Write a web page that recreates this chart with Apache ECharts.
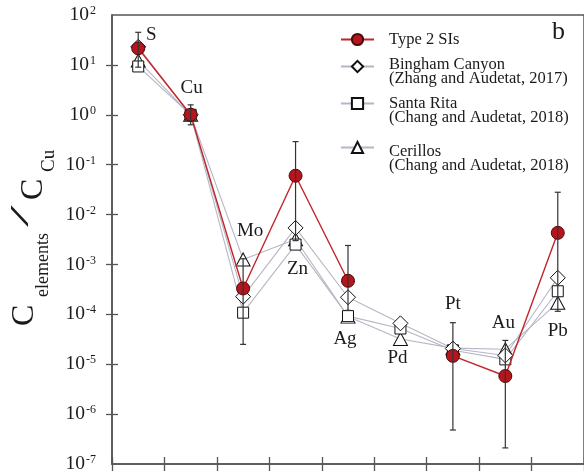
<!DOCTYPE html>
<html>
<head>
<meta charset="utf-8">
<script src="https://cdn.jsdelivr.net/npm/echarts@6/dist/echarts.min.js"></script>
<style>
html, body { margin: 0; padding: 0; background: #fff; }
#chart { width: 584px; height: 474px; }
</style>
</head>
<body>
<div id="chart"></div>
<script>
// Element concentrations normalised to Cu
const elements = ['S', 'Cu', 'Mo', 'Zn', 'Ag', 'Pd', 'Pt', 'Au', 'Pb'];
const type2 = [21.5, 1, 3.3e-4, 0.060, 4.7e-4, null, 1.47e-5, 5.8e-6, 4.3e-3];
const type2Low = [9, 0.63, 2.5e-5, 3.0e-3, 1.2e-4, null, 4.8e-7, 2.1e-7, 1.15e-4];
const type2High = [45, 1.58, 1.3e-3, 0.29, 2.4e-3, null, 6.8e-5, 3.0e-5, 0.028];
const bingham = [23, 1, 2.26e-4, 5.4e-3, 2.2e-4, 6.6e-5, 2.06e-5, 1.5e-5, 5.4e-4];
const santaRita = [9.3, 1, 1.08e-4, 2.5e-3, 9.2e-5, 5.2e-5, 1.9e-5, 1.25e-5, 2.9e-4];
const cerillos = [12.2, 1, 1.26e-3, 3.2e-3, 9.0e-5, 3.2e-5, 2.1e-5, 2.0e-5, 1.7e-4];
const yTickValues = [1e-6, 1e-5, 1e-4, 1e-3, 1e-2, 1e-1, 1, 10];

const names = {
  type2: 'Type 2 SIs',
  bingham: 'Bingham Canyon\n(Zhang and Audetat, 2017)',
  santaRita: 'Santa Rita\n(Chang and Audetat, 2018)',
  cerillos: 'Cerillos\n(Chang and Audetat, 2018)'
};

const SERIF = '"Liberation Serif", "Times New Roman", serif';
const AXIS = '#555';
const GREY_LINE = '#b6b6c6';

// which series carries each element label, and where the label sits relative to that point
const elementLabelAt = {
  S: ['type2', [13, -13]],
  Cu: ['type2', [1, -27]],
  Mo: ['type2', [7, -57]],
  Zn: ['santaRita', [2, 24]],
  Ag: ['santaRita', [-3, 23]],
  Pd: ['bingham', [-3, 35]],
  Pt: ['type2', [0, -52]],
  Au: ['type2', [-2, -53]],
  Pb: ['cerillos', [0, 28]]
};

function withLabels(key, values) {
  return values.map((v, i) => {
    const spec = elementLabelAt[elements[i]];
    if (v == null || !spec || spec[0] !== key) return v;
    return {
      value: v,
      label: {
        show: true,
        position: 'inside',
        offset: spec[1],
        formatter: elements[i],
        fontFamily: SERIF,
        fontSize: 19,
        color: '#1a1a1a'
      }
    };
  });
}

function openSeries(key, symbol, size) {
  return {
    name: names[key],
    type: 'line',
    data: withLabels(key, ({ bingham, santaRita, cerillos })[key]),
    symbol: symbol,
    symbolSize: size,
    showAllSymbol: true,
    connectNulls: false,
    lineStyle: { color: GREY_LINE, width: 1.1 },
    itemStyle: { color: '#fff', borderColor: '#111', borderWidth: 1 },
    emphasis: { disabled: true },
    z: 2
  };
}

const errorData = elements.map((e, i) => [i, type2Low[i], type2High[i]]).filter(d => d[1] != null);

// one legend block per series; the small spacer line nudges the text below the icon
function legendFor(name, top, spacer) {
  return {
    data: [name],
    left: 340,
    top: top,
    padding: 0,
    itemWidth: 33,
    itemHeight: 14,
    selectedMode: false,
    formatter: n => (spacer ? '{sp| }\n' : '') + n.split('\n').map(s => '{t|' + s + '}').join('\n'),
    textStyle: {
      rich: {
        sp: { fontSize: 4, lineHeight: spacer || 1 },
        t: { fontFamily: SERIF, fontSize: 16.5, lineHeight: 13.5, color: '#1a1a1a', padding: [0, 0, 0, 10] }
      }
    }
  };
}

// y-axis title pieces: baseline offset to the right of the group origin, start along the text
const titleParts = [
  { text: 'C', size: 32, base: 33, at: 0 },
  { text: 'elements', size: 18, base: 48, at: 29 },
  { text: '/', size: 26, base: 28, at: 99, stretch: 3 },
  { text: 'C', size: 32, base: 42, at: 126 },
  { text: 'Cu', size: 19, base: 54, at: 154 }
];
const titleChildren = titleParts.map(p => ({
  type: 'text',
  x: p.at,
  y: p.base + 0.25 * p.size,
  scaleX: p.stretch || 1,
  style: {
    text: p.text,
    font: p.size + 'px "Liberation Serif"',
    fill: '#1a1a1a',
    align: 'left',
    verticalAlign: 'bottom'
  }
}));

const chart = echarts.init(document.getElementById('chart'), null, { renderer: 'canvas' });

chart.setOption({
  animation: false,
  backgroundColor: '#fff',
  grid: {
    left: 112, top: 15, width: 475, bottom: 9,
    show: true, borderColor: AXIS, borderWidth: 1.5
  },
  title: {
    text: 'b', left: 547, top: 14,
    textStyle: { fontFamily: SERIF, fontSize: 26, fontWeight: 'normal', color: '#1a1a1a' }
  },
  legend: [
    legendFor(names.type2, 31, 0),
    legendFor(names.bingham, 51, 10),
    legendFor(names.santaRita, 88, 14),
    legendFor(names.cerillos, 132, 22)
  ],
  xAxis: [
    {
      type: 'category', data: elements, boundaryGap: true,
      axisLine: { lineStyle: { color: AXIS, width: 1.5 } },
      axisTick: { show: true, inside: false, length: 7, lineStyle: { color: AXIS, width: 1.3 } },
      axisLabel: { show: false },
      splitLine: { show: false }
    },
    {
      type: 'category', data: elements, boundaryGap: true, position: 'bottom',
      axisLine: { show: false },
      axisTick: { show: true, inside: true, length: 7, lineStyle: { color: AXIS, width: 1.3 } },
      axisLabel: { show: false },
      splitLine: { show: false }
    }
  ],
  yAxis: [
    {
      type: 'log', logBase: 10, min: 1e-7, max: 100,
      axisLine: { show: true, lineStyle: { color: AXIS, width: 1.5 } },
      axisTick: { show: true, inside: false, length: 6, customValues: yTickValues, lineStyle: { color: AXIS, width: 1.3 } },
      splitLine: { show: false },
      axisLabel: {
        margin: 16,
        formatter: v => '{b|10}{e|' + Math.round(Math.log10(v)) + '}',
        rich: {
          b: { fontFamily: SERIF, fontSize: 19.5, color: '#1a1a1a', lineHeight: 20 },
          e: { fontFamily: SERIF, fontSize: 12, color: '#1a1a1a', lineHeight: 16, verticalAlign: 'top', padding: [0, 0, 0, 1] }
        }
      }
    },
    {
      type: 'log', logBase: 10, min: 1e-7, max: 100, position: 'left',
      axisLine: { show: false },
      axisTick: { show: true, inside: true, length: 6, customValues: yTickValues, lineStyle: { color: AXIS, width: 1.3 } },
      axisLabel: { show: false },
      splitLine: { show: false }
    }
  ],
  graphic: [
    { type: 'group', x: 0, y: 326, rotation: Math.PI / 2, children: titleChildren }
  ],
  series: [
    openSeries('cerillos', 'triangle', [14, 13]),
    openSeries('santaRita', 'rect', 11),
    openSeries('bingham', 'diamond', 15),
    {
      name: names.type2,
      type: 'line',
      data: withLabels('type2', type2),
      symbol: 'circle',
      symbolSize: 13,
      showAllSymbol: true,
      connectNulls: false,
      lineStyle: { color: '#c0262c', width: 1.4 },
      itemStyle: { color: '#b5161d', borderColor: '#4a0a0a', borderWidth: 1 },
      emphasis: { disabled: true },
      z: 3
    },
    {
      type: 'custom',
      name: 'error',
      data: errorData,
      z: 5,
      silent: true,
      renderItem: function (params, api) {
        const i = api.value(0);
        const lo = api.coord([i, api.value(1)]);
        const hi = api.coord([i, api.value(2)]);
        const cap = 3;
        const style = { stroke: '#333', lineWidth: 1.2 };
        return {
          type: 'group',
          children: [
            { type: 'line', shape: { x1: lo[0], y1: lo[1], x2: hi[0], y2: hi[1] }, style },
            { type: 'line', shape: { x1: hi[0] - cap, y1: hi[1], x2: hi[0] + cap, y2: hi[1] }, style },
            { type: 'line', shape: { x1: lo[0] - cap, y1: lo[1], x2: lo[0] + cap, y2: lo[1] }, style }
          ]
        };
      }
    }
  ]
});
</script>
</body>
</html>
